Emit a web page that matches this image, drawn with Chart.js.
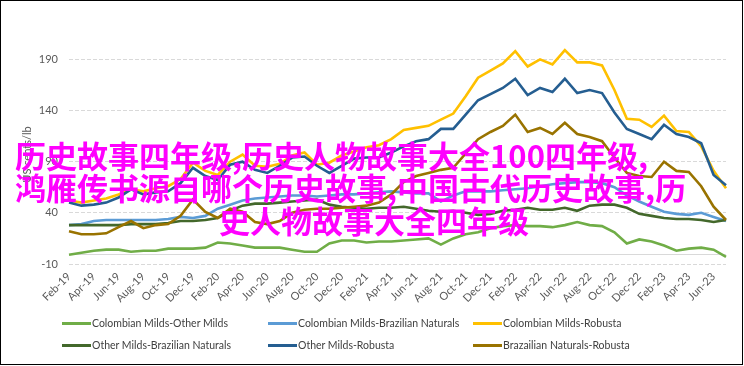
<!DOCTYPE html>
<html>
<head>
<meta charset="utf-8">
<script src="https://cdn.jsdelivr.net/npm/chart.js@4.4.1/dist/chart.umd.min.js"></script>
<style>
  html, body { margin:0; padding:0; background:#fff; }
  #wrap { position:relative; width:744px; height:366px; overflow:hidden; background:#fff; }
  #frame { position:absolute; left:0; top:0; width:743px; height:365px; box-sizing:border-box; border:1.5px solid #000; pointer-events:none; z-index:5; }
  canvas { position:absolute; left:0; top:0; }
  .leg { position:absolute; font-family:Lato, "Liberation Sans", sans-serif; font-size:10.5px; color:#404040; white-space:nowrap; display:flex; align-items:center; height:14px; }
  .leg span.sw { display:inline-block; width:29px; height:3px; margin-right:1px; }
  .ov { position:absolute; font-family:"Noto Sans CJK SC", sans-serif; font-weight:bold; font-size:31px; line-height:32px; color:#FF00FF; white-space:nowrap; z-index:4; }
</style>
</head>
<body>
<div id="wrap">
  <canvas id="c" width="744" height="366"></canvas>
  <div id="legend"></div>
  <div class="ov" style="left:15px; top:139px;">历史故事四年级,历史人物故事大全100四年级,</div>
  <div class="ov" style="left:15px; top:171px;">鸿雁传书源自哪个历史故事,中国古代历史故事,历</div>
  <div class="ov" style="left:219px; top:204px;">史人物故事大全四年级</div>
  <div id="frame"></div>
</div>
<script>
// ---- data ----
const months = ["Feb-19","Mar-19","Apr-19","May-19","Jun-19","Jul-19","Aug-19","Sep-19","Oct-19","Nov-19","Dec-19",
  "Jan-20","Feb-20","Mar-20","Apr-20","May-20","Jun-20","Jul-20","Aug-20","Sep-20","Oct-20","Nov-20","Dec-20",
  "Jan-21","Feb-21","Mar-21","Apr-21","May-21","Jun-21","Jul-21","Aug-21","Sep-21","Oct-21","Nov-21","Dec-21",
  "Jan-22","Feb-22","Mar-22","Apr-22","May-22","Jun-22","Jul-22","Aug-22","Sep-22","Oct-22","Nov-22","Dec-22",
  "Jan-23","Feb-23","Mar-23","Apr-23","May-23","Jun-23","Jul-23"];

const colombianOther = [-1,1,3,4,4,2,3,3,5,5,5,6,11,10,8,6,6,6,4,2,2,10,13,13,11,12,12,13,14,15,9,15,19,21,25,27,28,27,27,26,28,31,28,27,21,10,14,12,8,3,5,6,4,-3];
const colombianBrazil = [28,29,32,33,33,33,33,33,34,36,35,37,44,48,52,54,55,56,57,57,56,57,58,58,59,60,61,60,59,59,51,57,61,61,61,62,63,64,66,68,69,70,70,69,65,57,51,46,41,39,38,40,36,32];
const colombianRobusta = [52,50,52,54,58,63,61,64,66,73,89,81,77,90,97,86,85,88,96,99,87,89,96,100,104,106,112,121,123,125,131,137,154,172,179,186,198,183,190,185,199,187,187,184,160,132,131,124,135,120,119,105,81,64];
const otherBrazil = [28,28,28,28,28,29,29,29,30,32,32,33,35,42,47,49,49,50,51,52,53,48,46,45,44,45,45,46,44,42,41,42,40,38,39,42,43,45,43,43,45,42,47,48,48,45,39,37,35,34,34,33,31,33];
const otherRobusta = [50,47,48,50,55,63,58,60,61,69,84,76,72,87,90,82,79,86,94,95,86,79,86,93,94,94,99,105,110,112,122,122,136,150,156,162,171,155,162,158,171,157,160,157,138,122,117,112,126,117,114,108,77,67];
const brazilRobusta = [22,19,19,20,26,32,25,28,29,37,53,41,35,44,41,31,29,32,40,43,44,44,45,46,47,50,58,70,76,79,82,84,98,112,119,125,136,119,123,117,128,117,114,110,94,79,76,75,90,81,80,66,46,33];

const seriesNames = ["Colombian Milds-Other Milds","Colombian Milds-Brazilian Naturals","Colombian Milds-Robusta",
  "Other Milds-Brazilian Naturals","Other Milds-Robusta","Brazailian Naturals-Robusta"];
const seriesColors = ["#70AD47","#5B9BD5","#FFC000","#43682B","#255E91","#997300"];
const yTicks = [-10,40,90,140,190];
const yTitle = "US cents/lb";

// ---- chart ----
const seriesData = [colombianOther, colombianBrazil, colombianRobusta, otherBrazil, otherRobusta, brazilRobusta];
const datasets = seriesData.map((d,i)=>({
  label: seriesNames[i], data: d, borderColor: seriesColors[i], backgroundColor: seriesColors[i],
  borderWidth: 2.6, pointRadius: 0, tension: 0, fill: false, order: 6 - i
}));

const zeroLine = {
  id: 'zeroLine',
  beforeDatasetsDraw(chart) {
    const {ctx, chartArea, scales} = chart;
    const y = Math.round(scales.y.getPixelForValue(0)) + 0.5;
    ctx.save();
    ctx.strokeStyle = '#D9D9D9';
    ctx.lineWidth = 1;
    ctx.beginPath();
    ctx.moveTo(chartArea.left, y);
    ctx.lineTo(chartArea.right, y);
    ctx.stroke();
    ctx.restore();
  }
};

new Chart(document.getElementById('c'), {
  type: 'line',
  data: { labels: months, datasets },
  plugins: [zeroLine],
  options: {
    responsive: false,
    animation: false,
    layout: { padding: { left: 20, right: 18, top: 45, bottom: 0 } },
    plugins: { legend: { display: false }, tooltip: { enabled: false } },
    scales: {
      x: {
        type: 'category',
        grid: { display: false, drawTicks: false },
        border: { display: false },
        afterFit(scale) { scale.height = 102; },
        ticks: {
          autoSkip: false, maxRotation: 45, minRotation: 45, padding: 6,
          color: '#595959', font: { family: 'Lato', size: 11 },
          callback(value, index) { return index % 2 === 0 ? this.getLabelForValue(value) : ''; }
        }
      },
      y: {
        min: -10, max: 204,
        afterBuildTicks(scale) { scale.ticks = yTicks.map(v => ({ value: v })); },
        afterFit(scale) { scale.width = 49; },
        grid: { color: '#D9D9D9', drawTicks: false, lineWidth: 1 },
        border: { display: false, dash: [4, 2] },
        ticks: { padding: 11, color: '#595959', font: { family: 'Lato', size: 11 } },
        title: { display: true, text: yTitle, color: '#595959', font: { family: 'Lato', size: 11 }, padding: { top: 1, bottom: 0 } }
      }
    }
  }
});

// ---- legend (HTML text) ----
const legCols = [62, 268, 473];
const legRows = [316, 338];
const leg = document.getElementById('legend');
seriesNames.forEach((n, i) => {
  const d = document.createElement('div');
  d.className = 'leg';
  d.style.left = legCols[i % 3] + 'px';
  d.style.top = legRows[Math.floor(i / 3)] + 'px';
  d.innerHTML = '<span class="sw" style="background:' + seriesColors[i] + '"></span>' + n;
  leg.appendChild(d);
});
</script>
</body>
</html>
